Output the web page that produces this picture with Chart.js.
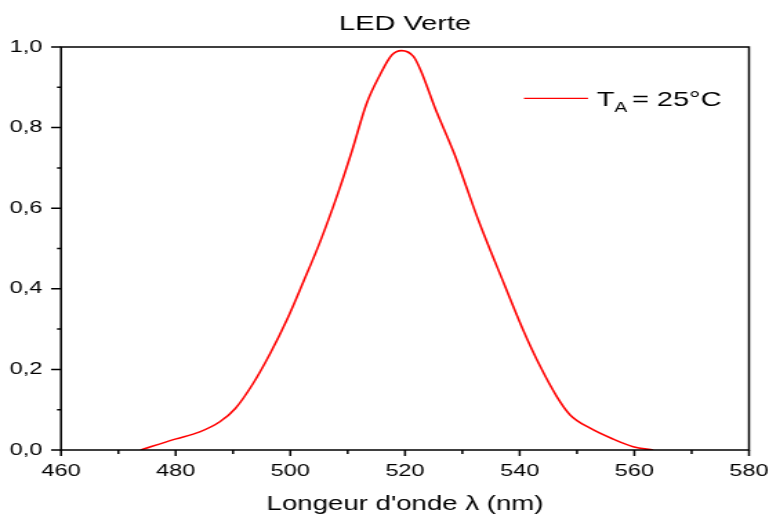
<!DOCTYPE html>
<html>
<head>
<meta charset="utf-8">
<script src="https://cdn.jsdelivr.net/npm/chart.js@4.4.0/dist/chart.umd.min.js"></script>
<style>
  body { margin: 0; background: #fff; }
  #wrap { width: 769px; height: 516px; }
</style>
</head>
<body>
<div id="wrap">
  <!-- the reference is horizontally stretched, so the canvas is drawn narrow and scaled by CSS -->
  <canvas id="chart" width="557" height="516" style="width: 769px; height: 516px; display: block;"></canvas>
</div>
<script>
// Données
const wavelengths = [473.9, 479.9, 484.2, 487.7, 490.4, 493.5, 496.5, 499.4, 502.2, 505.2,
                     508.4, 510.7, 513.3, 515.6, 517.7, 519.4, 521.5, 522.8, 525.2, 528.6,
                     530.8, 532.8, 537.2, 540.6, 543.6, 546.5, 548.8, 552.3, 556.3, 559.8, 563.3];
const intensity   = [0.0, 0.027, 0.045, 0.070, 0.103, 0.165, 0.240, 0.323, 0.415, 0.517,
                     0.641, 0.740, 0.860, 0.930, 0.980, 0.991, 0.976, 0.940, 0.850, 0.735,
                     0.649, 0.570, 0.415, 0.298, 0.207, 0.132, 0.087, 0.054, 0.027, 0.008, 0.0];
const xRange = [460, 580];
const yRange = [0, 1];
const chartTitle = 'LED Verte';
const xTitle = "Longeur d'onde \u03bb (nm)";
const legendMain = 'T';
const legendSub = 'A';
const legendRest = '= 25\u00b0C';

const FONT = 'Arial, "Liberation Sans", sans-serif';

// Cadre + graduations majeures / mineures + légende
const frameAndTicks = {
    id: 'frameAndTicks',
    afterDraw(chart) {
        const { ctx, chartArea: a, scales: { x, y } } = chart;
        ctx.save();
        ctx.strokeStyle = '#000';
        ctx.lineWidth = 1.5;
        ctx.strokeRect(a.left, a.top, a.right - a.left, a.bottom - a.top);

        ctx.beginPath();
        const xt = x.ticks.map(t => t.value);
        xt.forEach((v, i) => {
            const px = x.getPixelForValue(v);
            ctx.moveTo(px, a.bottom); ctx.lineTo(px, a.bottom + 6);
            if (i < xt.length - 1) {
                const mx = x.getPixelForValue((v + xt[i + 1]) / 2);
                ctx.moveTo(mx, a.bottom); ctx.lineTo(mx, a.bottom + 4);
            }
        });
        const yt = y.ticks.map(t => t.value);
        yt.forEach((v, i) => {
            const py = y.getPixelForValue(v);
            ctx.moveTo(a.left, py); ctx.lineTo(a.left - 7.2, py);
            if (i < yt.length - 1) {
                const my = y.getPixelForValue((v + yt[i + 1]) / 2);
                ctx.moveTo(a.left, my); ctx.lineTo(a.left - 2.9, my);
            }
        });
        ctx.stroke();

        // légende T_A = 25°C
        const lx = a.right - 163;
        const ly = a.top + 51.3;
        ctx.strokeStyle = '#ff0000';
        ctx.lineWidth = 1.3;
        ctx.beginPath();
        ctx.moveTo(lx, ly); ctx.lineTo(lx + 46.4, ly);
        ctx.stroke();
        ctx.fillStyle = '#000';
        ctx.textBaseline = 'alphabetic';
        ctx.textAlign = 'left';
        let tx = lx + 52.7;
        ctx.font = '21px ' + FONT;
        ctx.fillText(legendMain, tx, ly + 7.7);
        tx += ctx.measureText(legendMain).width;
        ctx.font = '14px ' + FONT;
        ctx.fillText(legendSub, tx, ly + 13.4);
        tx += ctx.measureText(legendSub).width + 3.3;
        ctx.font = '21px ' + FONT;
        ctx.fillText(legendRest, tx, ly + 7.7);
        ctx.restore();
    }
};

const ctx = document.getElementById('chart').getContext('2d');
const chart = new Chart(ctx, {
    type: 'line',
    data: {
        datasets: [{
            label: legendMain + legendSub + ' ' + legendRest,
            data: wavelengths.map((w, i) => ({ x: w, y: intensity[i] })),
            borderColor: '#ff0000',
            borderWidth: 1.6,
            pointRadius: 0,
            fill: false,
            cubicInterpolationMode: 'monotone'
        }]
    },
    options: {
        responsive: false,
        animation: false,
        devicePixelRatio: 1,
        layout: { padding: { left: 0, right: 14.5, top: 0, bottom: 0 } },
        plugins: {
            legend: { display: false },
            tooltip: { enabled: false },
            title: {
                display: true,
                text: chartTitle,
                color: '#000',
                fullSize: false,
                font: { family: FONT, size: 21, weight: 'normal', lineHeight: 1.2 },
                padding: { top: 11.4, bottom: 10.4 }
            }
        },
        scales: {
            x: {
                type: 'linear',
                min: xRange[0],
                max: xRange[1],
                grid: { display: false, drawTicks: false },
                border: { display: false },
                ticks: {
                    stepSize: 20,
                    color: '#000',
                    padding: 11,
                    maxRotation: 0,
                    font: { family: FONT, size: 17 }
                },
                title: {
                    display: true,
                    text: xTitle,
                    color: '#000',
                    font: { family: FONT, size: 20 },
                    padding: { top: 0, bottom: 0 }
                },
                afterFit(scale) {
                    scale.height = 66;
                    scale.paddingLeft = 0;
                    scale.paddingRight = 0;
                }
            },
            y: {
                min: yRange[0],
                max: yRange[1],
                grid: { display: false, drawTicks: false },
                border: { display: false },
                ticks: {
                    stepSize: 0.2,
                    color: '#000',
                    padding: 13.6,
                    font: { family: FONT, size: 17 },
                    callback: v => v.toFixed(1).replace('.', ',')
                },
                afterFit(scale) {
                    scale.width = 44.2;
                    scale.paddingTop = 0;
                    scale.paddingBottom = 0;
                }
            }
        }
    },
    plugins: [frameAndTicks]
});
</script>
</body>
</html>
